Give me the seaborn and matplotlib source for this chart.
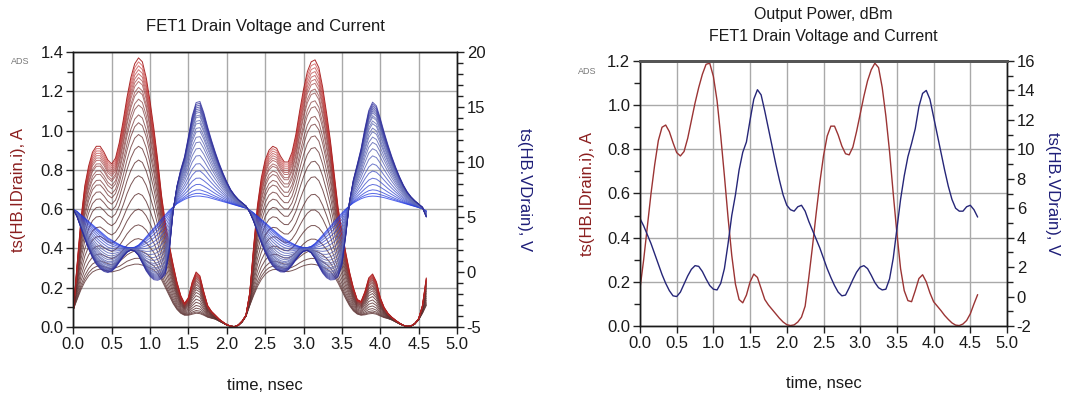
import numpy as np
import pandas as pd
import matplotlib
matplotlib.use("Agg")
import matplotlib.pyplot as plt
import seaborn as sns
from matplotlib.ticker import MultipleLocator, FormatStrFormatter
from matplotlib.colors import LinearSegmentedColormap, to_hex

# ---------------- data ----------------
time_ns = np.round(np.arange(93) * 0.05, 2)   # 0.00 ... 4.60 ns

# Left panel: drive sweep, highest-drive and lowest-drive traces
i_drain_high = [0.08, 0.32, 0.55, 0.72, 0.82, 0.89, 0.92, 0.92, 0.89, 0.85, 0.83, 0.86, 0.94, 1.05, 1.17, 1.27,
                1.34, 1.37, 1.35, 1.27, 1.15, 1.01, 0.85, 0.67, 0.53, 0.42, 0.32, 0.23, 0.16, 0.12, 0.15, 0.23,
                0.28, 0.26, 0.18, 0.11, 0.08, 0.06, 0.04, 0.025, 0.012, 0.004, 0.002, 0.01, 0.03, 0.06,
                0.176, 0.41, 0.62, 0.76, 0.85, 0.90, 0.92, 0.91, 0.87, 0.84, 0.84, 0.89, 0.98, 1.10, 1.21, 1.30,
                1.35, 1.36, 1.32, 1.22, 1.09, 0.95, 0.78, 0.61, 0.49, 0.38, 0.28, 0.20, 0.14, 0.13, 0.18, 0.25,
                0.27, 0.23, 0.15, 0.10, 0.07, 0.05, 0.034, 0.02, 0.009, 0.003, 0.005, 0.018, 0.042, 0.11, 0.25]
i_drain_low = [0.09, 0.14, 0.19, 0.23, 0.26, 0.28, 0.29, 0.295, 0.29, 0.285, 0.28, 0.285, 0.29, 0.30, 0.31, 0.315,
               0.32, 0.32, 0.315, 0.31, 0.30, 0.29, 0.27, 0.24, 0.20, 0.16, 0.12, 0.09, 0.07, 0.06, 0.06, 0.065,
               0.07, 0.068, 0.06, 0.05, 0.045, 0.04, 0.03, 0.02, 0.01, 0.004, 0.002, 0.008, 0.025, 0.055,
               0.11, 0.16, 0.206, 0.242, 0.268, 0.284, 0.292, 0.293, 0.288, 0.283, 0.282, 0.287, 0.294, 0.304,
               0.312, 0.317, 0.32, 0.318, 0.313, 0.306, 0.296, 0.282, 0.258, 0.224, 0.184, 0.144, 0.108, 0.082,
               0.066, 0.06, 0.062, 0.067, 0.069, 0.065, 0.056, 0.048, 0.043, 0.036, 0.026, 0.016, 0.0076, 0.0032,
               0.0044, 0.015, 0.037, 0.07, 0.11]
v_drain_high = [5.7, 5.0, 4.0, 3.0, 2.1, 1.3, 0.7, 0.3, 0.05, -0.05, 0.05, 0.4, 0.9, 1.4, 1.8, 2.0,
                1.9, 1.5, 0.8, 0.1, -0.4, -0.7, -0.75, -0.6, -0.2, 1.8, 5.5, 7.8, 9.3, 10.5, 12.3, 14.2,
                15.4, 15.5, 14.5, 13.2, 12.0, 10.9, 9.9, 9.0, 8.2, 7.5, 7.0, 6.6, 6.3, 6.0,
                5.42, 4.6, 3.6, 2.64, 1.78, 1.06, 0.54, 0.2, 0.01, -0.01, 0.19, 0.6, 1.1, 1.56, 1.88, 1.96,
                1.74, 1.22, 0.52, -0.1, -0.52, -0.72, -0.69, -0.44, 0.6, 3.28, 6.42, 8.4, 9.78, 11.22, 13.06, 14.68,
                15.44, 15.1, 13.98, 12.72, 11.56, 10.5, 9.54, 8.68, 7.92, 7.3, 6.84, 6.48, 6.18, 5.88, 5.0]
v_drain_low = [5.7, 5.5, 5.2, 4.9, 4.6, 4.3, 4.0, 3.7, 3.4, 3.1, 2.9, 2.7, 2.5, 2.35, 2.25, 2.2,
               2.25, 2.45, 2.8, 3.2, 3.6, 4.0, 4.4, 4.8, 5.2, 5.6, 5.9, 6.2, 6.4, 6.6, 6.75, 6.85,
               6.9, 6.9, 6.85, 6.8, 6.7, 6.6, 6.5, 6.4, 6.3, 6.2, 6.1, 6.0, 5.9, 5.8,
               5.62, 5.38, 5.08, 4.78, 4.48, 4.18, 3.88, 3.58, 3.28, 3.02, 2.82, 2.62, 2.44, 2.31, 2.23, 2.22,
               2.33, 2.59, 2.96, 3.36, 3.76, 4.16, 4.56, 4.96, 5.36, 5.72, 6.02, 6.28, 6.48, 6.66, 6.79, 6.87,
               6.9, 6.88, 6.83, 6.76, 6.66, 6.56, 6.46, 6.36, 6.26, 6.16, 6.06, 5.96, 5.86, 5.76, 5.55]
# peak drain current of each swept trace (read at t = 0.85 ns)
sweep_peak_A = [0.32, 0.35, 0.39, 0.45, 0.52, 0.60, 0.68, 0.77, 0.85, 0.92, 0.98, 1.04, 1.08, 1.13,
                1.16, 1.20, 1.22, 1.25, 1.27, 1.29, 1.31, 1.33, 1.35, 1.37]

# Right panel: single operating point
i_out = [0.17, 0.30, 0.45, 0.60, 0.73, 0.84, 0.90, 0.91, 0.88, 0.83, 0.785, 0.77, 0.79, 0.85, 0.93, 1.01,
         1.08, 1.14, 1.185, 1.19, 1.13, 1.02, 0.86, 0.68, 0.49, 0.32, 0.19, 0.12, 0.105, 0.14, 0.20, 0.235,
         0.22, 0.17, 0.12, 0.095, 0.075, 0.055, 0.035, 0.018, 0.006, 0.002, 0.005, 0.018, 0.04, 0.09,
         0.22, 0.36, 0.51, 0.65, 0.77, 0.86, 0.905, 0.905, 0.865, 0.815, 0.78, 0.775, 0.81, 0.88, 0.96, 1.04,
         1.11, 1.16, 1.19, 1.17, 1.08, 0.95, 0.79, 0.60, 0.42, 0.26, 0.16, 0.115, 0.11, 0.16, 0.215, 0.232,
         0.20, 0.15, 0.11, 0.09, 0.07, 0.048, 0.03, 0.014, 0.004, 0.002, 0.009, 0.025, 0.055, 0.10, 0.142]
v_out = [5.3, 4.8, 4.2, 3.6, 2.9, 2.2, 1.5, 0.9, 0.4, 0.05, 0.0, 0.3, 0.85, 1.4, 1.85, 2.1,
         2.05, 1.7, 1.2, 0.75, 0.5, 0.45, 0.9, 1.9, 3.6, 5.5, 6.9, 8.6, 9.8, 10.5, 12.0, 13.4,
         14.05, 13.7, 12.6, 11.4, 10.2, 9.0, 7.9, 6.9, 6.2, 5.9, 5.8, 6.1, 6.2, 5.8,
         5.1, 4.5, 3.9, 3.3, 2.6, 1.9, 1.3, 0.75, 0.3, 0.05, 0.1, 0.6, 1.15, 1.65, 2.0, 2.1,
         1.9, 1.45, 0.95, 0.6, 0.45, 0.5, 1.2, 2.6, 4.6, 6.6, 8.2, 9.5, 10.4, 11.4, 12.9, 13.8,
         14.0, 13.4, 12.2, 11.0, 9.8, 8.6, 7.5, 6.6, 6.0, 5.8, 5.8, 6.1, 6.2, 5.9, 5.4]

left_title = "FET1 Drain Voltage and Current"
right_titles = ["Output Power, dBm", "FET1 Drain Voltage and Current"]
ylabel_i = "ts(HB.IDrain.i), A"
ylabel_v = "ts(HB.VDrain), V"
xlabel = "time, nsec"

# ---------------- style ----------------
sns.set_theme(style="white")
plt.rcParams['font.family'] = ['Liberation Sans', 'DejaVu Sans']
plt.rcParams['axes.linewidth'] = 1.0

W, H = 1088, 396
fig = plt.figure(figsize=(W / 100, H / 100), dpi=100)
fig.patch.set_facecolor("white")

def px_axes(x0, x1, ytop, ybot):
    return fig.add_axes([x0 / W, 1 - ybot / H, (x1 - x0) / W, (ybot - ytop) / H])

axL = px_axes(73.3, 457, 52, 327)
axLr = axL.twinx()
axR = px_axes(640, 1007, 61, 326)
axRr = axR.twinx()

# ---- left: swept family ----
t = np.asarray(time_ns)
ih, il = np.asarray(i_drain_high), np.asarray(i_drain_low)
vh, vl = np.asarray(v_drain_high), np.asarray(v_drain_low)
w = (np.asarray(sweep_peak_A) - sweep_peak_A[0]) / (sweep_peak_A[-1] - sweep_peak_A[0])
rows_i, rows_v = [], []
for k, wk in enumerate(w):
    name = f"P{k:02d}"
    rows_i.append(pd.DataFrame({"time": t, "value": il + wk * (ih - il), "trace": name}))
    rows_v.append(pd.DataFrame({"time": t, "value": vl + wk * (vh - vl), "trace": name}))
df_i = pd.concat(rows_i, ignore_index=True)
df_v = pd.concat(rows_v, ignore_index=True)
names = [f"P{k:02d}" for k in range(len(w))]
n = len(names)
cm_i = LinearSegmentedColormap.from_list("ci", ["#6a4444", "#5a2c2c", "#8a3a3a", "#cc2020"])
cm_v = LinearSegmentedColormap.from_list("cv", ["#1b33e6", "#5a64b4", "#6a72b6", "#2a2a9a"])
pal_i = {nm: to_hex(cm_i(k / (n - 1))) for k, nm in enumerate(names)}
pal_v = {nm: to_hex(cm_v(k / (n - 1))) for k, nm in enumerate(names)}

sns.lineplot(data=df_i, x="time", y="value", hue="trace", hue_order=names, palette=pal_i,
             estimator=None, legend=False, lw=0.7, ax=axL)
sns.lineplot(data=df_v, x="time", y="value", hue="trace", hue_order=names, palette=pal_v,
             estimator=None, legend=False, lw=0.7, ax=axLr)
for k, ln in enumerate(axL.get_lines()[:n]):
    ln.set_alpha(0.9 - 0.3 * k / (n - 1))
for k, ln in enumerate(axLr.get_lines()[:n]):
    ln.set_alpha(0.85 - 0.2 * abs(k - n / 2) / n)
axL.get_lines()[n - 1].set_alpha(0.95)
axL.get_lines()[n - 1].set_color("#a82020")

# ---- right: single traces ----
df_r = pd.DataFrame({"time": t, "i": i_out, "v": v_out})
sns.lineplot(data=df_r, x="time", y="i", color="#9b3434", lw=1.0, ax=axR)
sns.lineplot(data=df_r, x="time", y="v", color="#262678", lw=1.0, ax=axRr)

# ---------------- axes formatting ----------------
def style_pair(ax, axr, ylim, yr_lim, ymaj, ymin, yrmaj, yrmin, yfmt, yrfmt):
    ax.set_xlim(0, 5)
    ax.set_ylim(*ylim)
    axr.set_ylim(*yr_lim)
    ax.xaxis.set_major_locator(MultipleLocator(0.5))
    ax.xaxis.set_major_formatter(FormatStrFormatter("%.1f"))
    ax.yaxis.set_major_locator(MultipleLocator(ymaj))
    ax.yaxis.set_minor_locator(MultipleLocator(ymin))
    ax.yaxis.set_major_formatter(FormatStrFormatter(yfmt))
    axr.yaxis.set_major_locator(MultipleLocator(yrmaj))
    axr.yaxis.set_minor_locator(MultipleLocator(yrmin))
    axr.yaxis.set_major_formatter(FormatStrFormatter(yrfmt))
    ax.grid(True, which="major", color="#a9a9a9", lw=1.0)
    axr.grid(False)
    ax.set_axisbelow(True)
    for a in (ax, axr):
        a.tick_params(which="major", direction="out", length=5, width=1, color="#222222",
                      labelsize=12, labelcolor="#1a1a1a", pad=2)
        a.tick_params(which="minor", direction="out", length=4, width=1, color="#222222")
        a.set_facecolor("none")
        for s in a.spines.values():
            s.set_color("#1a1a1a")
            s.set_linewidth(1.0)
    ax.tick_params(axis="x", which="major", bottom=True, length=5)
    ax.tick_params(axis="y", left=True, which="both")
    axr.tick_params(axis="y", right=True, which="both")
    ax.set_xlabel("")
    ax.set_ylabel("")
    axr.set_ylabel("")

style_pair(axL, axLr, (0, 1.4), (-5, 20), 0.2, 0.1, 5, 1, "%.1f", "%d")
style_pair(axR, axRr, (0, 1.2), (-2, 16), 0.2, 0.1, 2, 1, "%.1f", "%d")
axR.spines["top"].set_color("#555555")
axR.spines["top"].set_linewidth(2.0)
axRr.spines["top"].set_color("#555555")
axRr.spines["top"].set_linewidth(2.0)

# labels
for ax, axr, h, lx, rx in ((axL, axLr, 275, -0.144, 1.177), (axR, axRr, 265, -0.144, 1.123)):
    ax.text(0.5, -58 / h, xlabel, transform=ax.transAxes, ha="center", va="center",
            fontsize=12, color="#1a1a1a")
    ax.text(lx, 0.5, ylabel_i, transform=ax.transAxes, ha="center", va="center",
            rotation=90, fontsize=12, color="#8b1e1e")
    ax.text(rx, 0.5, ylabel_v, transform=ax.transAxes, ha="center", va="center",
            rotation=270, fontsize=12, color="#1e1e78")

axL.text(0.5, 1 + 25 / 275, left_title, transform=axL.transAxes, ha="center", va="center",
         fontsize=12, color="#1a1a1a")
axR.text(0.5, 1 + 46 / 265, right_titles[0], transform=axR.transAxes, ha="center", va="center",
         fontsize=11.5, color="#1a1a1a")
axR.text(0.5, 1 + 24 / 265, right_titles[1], transform=axR.transAxes, ha="center", va="center",
         fontsize=11.5, color="#1a1a1a")

fig.text(20 / W, 1 - 62 / H, "ADS", ha="center", va="center", fontsize=6.5, color="#777777")
fig.text(587 / W, 1 - 71 / H, "ADS", ha="center", va="center", fontsize=6.5, color="#777777")

fig.savefig("out.png", dpi=100, facecolor="white")
